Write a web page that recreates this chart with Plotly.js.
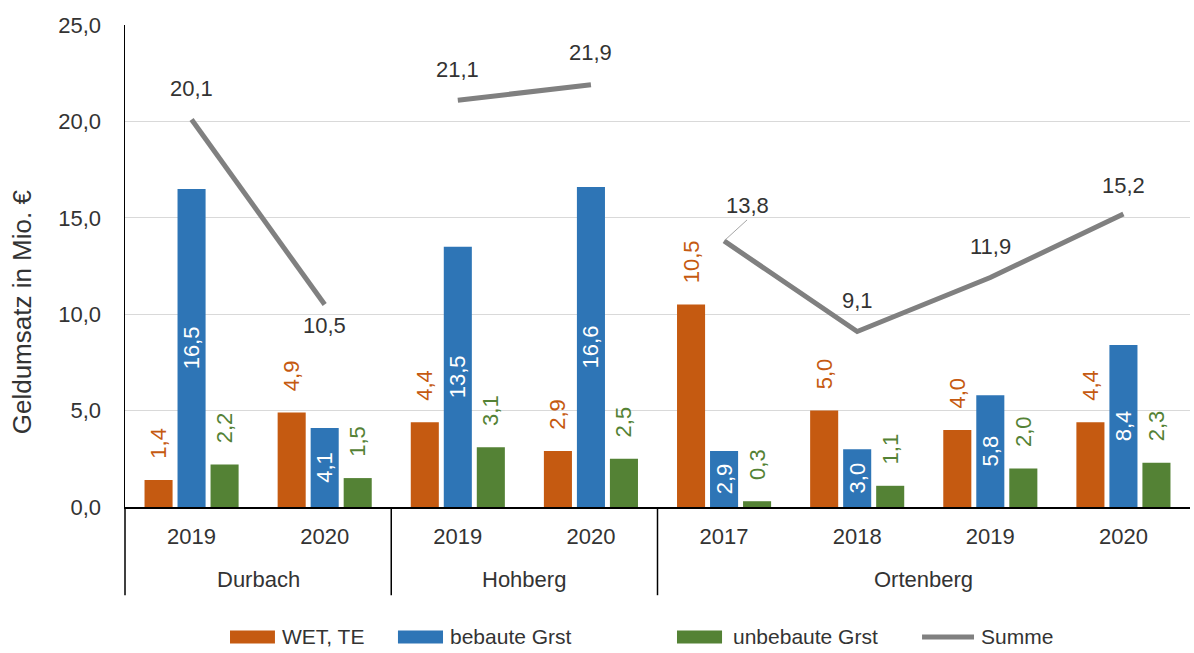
<!DOCTYPE html>
<html>
<head>
<meta charset="utf-8">
<script src="https://cdn.plot.ly/plotly-3.0.1.min.js"></script>
<style>
html,body{margin:0;padding:0;background:#fff;}
#chart{width:1194px;height:653px;}
</style>
</head>
<body>
<div id="chart"></div>
<script>
// ---- data ----
const groups = ['Durbach','Durbach','Hohberg','Hohberg','Ortenberg','Ortenberg','Ortenberg','Ortenberg'];
const years  = ['2019','2020','2019','2020','2017','2018','2019','2020'];
const wet       = [1.4, 4.9, 4.4, 2.9, 10.5, 5.0, 4.0, 4.4];
const bebaute   = [16.5, 4.1, 13.5, 16.6, 2.9, 3.0, 5.8, 8.4];
const unbebaute = [2.2, 1.5, 3.1, 2.5, 0.3, 1.1, 2.0, 2.3];
const summe     = [20.1, 10.5, 21.1, 21.9, 13.8, 9.1, 11.9, 15.2];
const seriesNames = ['WET, TE', 'bebaute Grst', 'unbebaute Grst', 'Summe'];
const yTitle = 'Geldumsatz in Mio. €';
const yTicks = [0, 5, 10, 15, 20, 25];

// ---- styles ----
const COL = {wet:'#C55A11', beb:'#2E75B6', unb:'#548235', sum:'#808080', text:'#333333'};
const FONT = 'Liberation Sans, Arial, sans-serif';
const FS = 22;

const fmt = v => v.toFixed(1).replace('.', ',');
const pad = s => '\u00a0\u00a0\u00a0' + s;
const idx = years.map((_, i) => i);

const barCommon = {type:'bar', x: idx, textangle:-90, cliponaxis:false, constraintext:'none', hoverinfo:'skip', showlegend:false};

const tWet = Object.assign({}, barCommon, {
  name: seriesNames[0], y: wet, marker:{color:COL.wet},
  text: wet.map(v => pad(fmt(v))), textposition:'outside',
  textfont:{family:FONT, size:FS, color:COL.wet}
});
const tBeb = Object.assign({}, barCommon, {
  name: seriesNames[1], y: bebaute, marker:{color:COL.beb},
  text: bebaute.map(fmt), textposition:'inside', insidetextanchor:'middle',
  insidetextfont:{family:FONT, size:FS, color:'#ffffff'}
});
const tUnb = Object.assign({}, barCommon, {
  name: seriesNames[2], y: unbebaute, marker:{color:COL.unb},
  text: unbebaute.map(v => pad(fmt(v))), textposition:'outside',
  textfont:{family:FONT, size:FS, color:COL.unb}
});

// Summe line broken between groups
const lx = [], ly = [];
idx.forEach(i => {
  if (i > 0 && groups[i] !== groups[i-1]) { lx.push(null); ly.push(null); }
  lx.push(i); ly.push(summe[i]);
});
const tSum = {type:'scatter', mode:'lines', name: seriesNames[3], x: lx, y: ly,
  line:{color:COL.sum, width:5}, hoverinfo:'skip', showlegend:false, connectgaps:false};

// Summe labels
const sumLabelStyle = [
  {yshift:31}, {yshift:-21}, {yshift:31}, {yshift:32},
  {arrow:true, ax:23, ay:-21}, {yshift:31}, {yshift:31}, {yshift:28}
];
const annotations = [];
summe.forEach((v, i) => {
  const st = sumLabelStyle[i];
  const a = {x:i, y:v, xref:'x', yref:'y', text:fmt(v),
    font:{family:FONT, size:FS, color:COL.text}};
  if (st.arrow) {
    Object.assign(a, {showarrow:true, arrowhead:0, arrowwidth:1, arrowcolor:'#a6a6a6',
      ax:st.ax, ay:st.ay, xanchor:'center', yanchor:'bottom', standoff:0});
  } else {
    Object.assign(a, {showarrow:false, yshift:st.yshift});
  }
  annotations.push(a);
});

// y axis title (placed like the original, centred on axis + category area)
annotations.push({x:-0.0967, y:0.404, xref:'paper', yref:'paper', text:yTitle, textangle:-90,
  showarrow:false, xanchor:'center', yanchor:'middle', font:{family:FONT, size:26, color:COL.text}});

// group labels and dividers
const shapes = [];
const groupNames = [...new Set(groups)];
const divY = -0.183;
shapes.push({type:'line', xref:'paper', yref:'paper', x0:0, x1:0, y0:0, y1:divY, line:{color:'#000', width:1.5}});
groupNames.forEach(g => {
  const ids = idx.filter(i => groups[i] === g);
  const mid = (ids[0] + ids[ids.length-1]) / 2;
  annotations.push({x:mid, y:-0.151, xref:'x', yref:'paper', text:g, showarrow:false,
    font:{family:FONT, size:FS, color:COL.text}, yanchor:'middle'});
  if (ids[0] > 0) {
    shapes.push({type:'line', xref:'x', yref:'paper', x0:ids[0]-0.5, x1:ids[0]-0.5, y0:0, y1:divY,
      line:{color:'#000', width:1.5}});
  }
});

// custom legend
const legY = -0.2697;
const legItems = [
  {kind:'rect', color:COL.wet, x0:0.0986, x1:0.1408, tx:0.1455},
  {kind:'rect', color:COL.beb, x0:0.2563, x1:0.2986, tx:0.3033},
  {kind:'rect', color:COL.unb, x0:0.5183, x1:0.5606, tx:0.5690},
  {kind:'line', color:COL.sum, x0:0.7484, x1:0.7972, tx:0.8019}
];
legItems.forEach((it, k) => {
  if (it.kind === 'rect') {
    shapes.push({type:'rect', xref:'paper', yref:'paper', x0:it.x0, x1:it.x1, y0:legY-0.0135, y1:legY+0.0135,
      fillcolor:it.color, line:{width:0}});
  } else {
    shapes.push({type:'line', xref:'paper', yref:'paper', x0:it.x0, x1:it.x1, y0:legY, y1:legY,
      line:{color:it.color, width:5}});
  }
  annotations.push({x:it.tx, y:legY, xref:'paper', yref:'paper', text:seriesNames[k], showarrow:false,
    xanchor:'left', yanchor:'middle', font:{family:FONT, size:21, color:COL.text}});
});

const layout = {
  width:1194, height:653,
  margin:{l:125, r:4, t:25, b:146},
  paper_bgcolor:'#ffffff', plot_bgcolor:'#ffffff',
  barmode:'group', bargap:0.256, bargroupgap:0.15,
  separators:',.',
  showlegend:false,
  font:{family:FONT, size:FS, color:COL.text},
  xaxis:{range:[-0.5, 7.5], tickmode:'array', tickvals:idx, ticktext:years,
    showgrid:false, zeroline:false, showline:true, linecolor:'#000', linewidth:1.5,
    ticks:'outside', ticklen:9, tickcolor:'rgba(0,0,0,0)',
    tickfont:{family:FONT, size:FS, color:COL.text}, fixedrange:true},
  yaxis:{range:[0, 25], tickmode:'array', tickvals:yTicks, tickformat:'.1f',
    showgrid:true, gridcolor:'#d9d9d9', gridwidth:1, zeroline:false,
    showline:true, linecolor:'#000', linewidth:1.5,
    ticks:'outside', ticklen:18, tickcolor:'rgba(0,0,0,0)',
    tickfont:{family:FONT, size:FS, color:COL.text},
    fixedrange:true},
  shapes: shapes,
  annotations: annotations
};

Plotly.newPlot('chart', [tWet, tBeb, tUnb, tSum], layout, {displayModeBar:false, staticPlot:true});
</script>
</body>
</html>
